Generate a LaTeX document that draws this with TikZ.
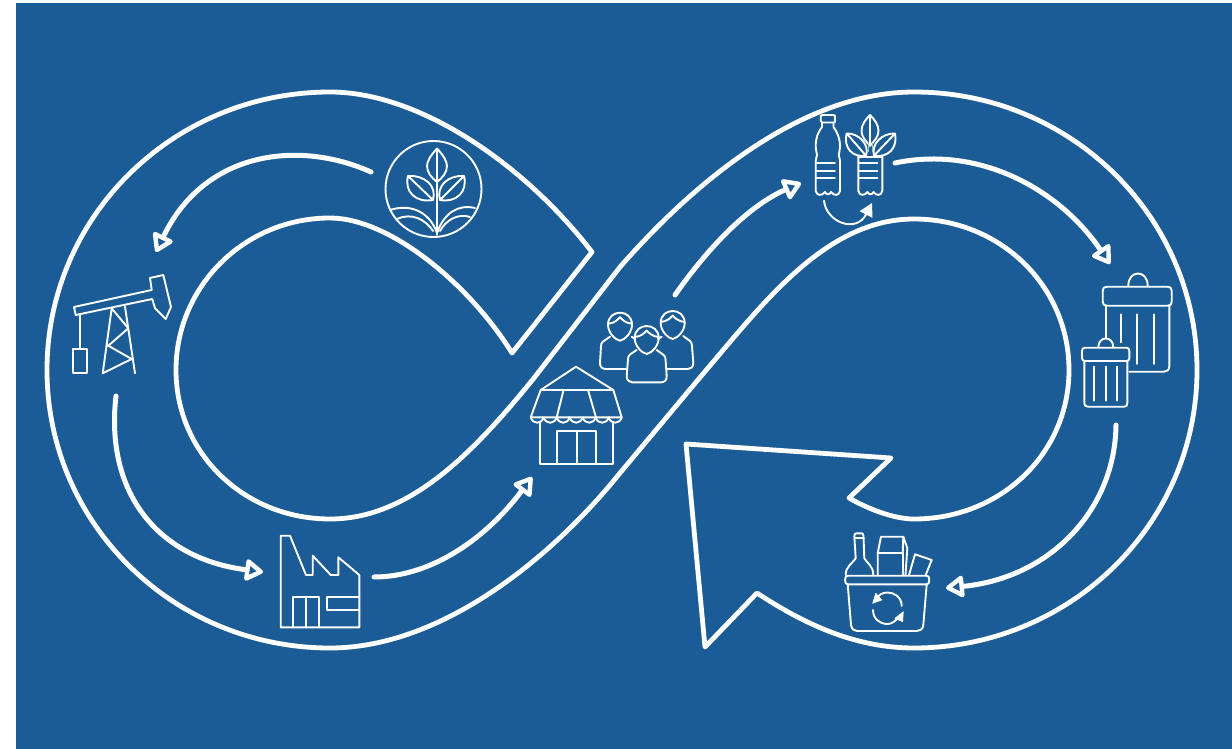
\documentclass[tikz,border=0pt]{standalone}
\usetikzlibrary{arrows.meta}
\definecolor{bluebg}{RGB}{27,92,150}
\definecolor{leafgreen}{RGB}{150,215,160}
\tikzset{
  bandline/.style={draw=white,line width=4.8pt,line join=round,line cap=round},
  flow/.style={draw=white,line width=5pt,line cap=round,-{Triangle[open,round,length=20pt,width=24pt,line width=4.4pt]}},
  icon/.style={draw=white,line width=1.9pt,line join=round,line cap=round},
  solidtip/.style={fill=white,draw=white,line width=.6pt,line join=round},
  person/.pic={
    \draw[icon] (0,14) .. controls (-5,13) and (-12,6) .. (-12,-2) .. controls (-12,-10) and (-6,-14) .. (0,-14) .. controls (6,-14) and (12,-10) .. (12,-2) .. controls (12,6) and (5,13) .. (0,14);
    \draw[icon] (-11.8,-3) .. controls (-6,-3.5) and (-2,-7) .. (0,-9.5) .. controls (2,-7) and (6,-3.5) .. (11.8,-3);
  }
}
\begin{document}
\begin{tikzpicture}[x=1pt,y=-1pt]
\useasboundingbox (0,0) rectangle (1232,749);
\fill[white] (0,0) rectangle (1232,749);
\fill[bluebg] (16,3) rectangle (1232,749);

% infinity band
\draw[bandline]
 (592,252) -- (512,353)
 .. controls (470,285) and (390,218) .. (330,218)
 .. controls (245,218) and (176,286) .. (176,370)
 .. controls (176,454) and (245,519) .. (330,519)
 .. controls (410,519) and (474,452) .. (534,378)
 -- (620,267)
 .. controls (705,170) and (810,92) .. (914,92)
 .. controls (1070,92) and (1197,216) .. (1197,370)
 .. controls (1197,524) and (1070,648) .. (914,648)
 .. controls (860,648) and (810,628) .. (757,593)
 -- (705,647) -- (686,444) -- (891,458) -- (849,498)
 .. controls (870,510) and (895,519) .. (914,519)
 .. controls (1000,519) and (1069,454) .. (1069,370)
 .. controls (1069,286) and (1000,219) .. (914,219)
 .. controls (825,219) and (762,305) .. (702,375)
 -- (620,473)
 .. controls (550,560) and (440,648) .. (330,648)
 .. controls (174,648) and (47,524) .. (47,370)
 .. controls (47,216) and (174,92) .. (330,92)
 .. controls (420,92) and (525,165) .. (592,252);

% flow arrows
\coordinate (s1) at (371,172); \coordinate (t1) at (156,252);
\coordinate (s2) at (116,396); \coordinate (t2) at (263,572);
\coordinate (s3) at (374,577); \coordinate (t3) at (532,477);
\coordinate (s4) at (675,295); \coordinate (t4) at (801,183);
\coordinate (s5) at (895,163); \coordinate (t5) at (1110,264);
\coordinate (s6) at (1116,425); \coordinate (t6) at (946,588);
\draw[flow] (s1) .. controls (300,140) and (205,150) .. (t1);
\draw[flow] (s2) .. controls (105,490) and (155,558) .. (t2);
\draw[flow] (s3) .. controls (430,577) and (485,540) .. (t3);
\draw[flow] (s4) .. controls (710,245) and (750,205) .. (t4);
\draw[flow] (s5) .. controls (980,145) and (1060,190) .. (t5);
\draw[flow] (s6) .. controls (1115,510) and (1050,578) .. (t6);

% sprout
\draw[icon] (433.5,189) ellipse [x radius=48,y radius=48];
\draw[icon] (437,148.5) .. controls (431,155) and (427,161) .. (427,166) .. controls (427,173) and (432,178) .. (437,182) .. controls (442,178) and (447,173) .. (447,166) .. controls (447,161) and (443,155) .. (437,148.5) -- (437,235);
\draw[icon] (408,176) .. controls (404,192) and (416,203) .. (433,200) .. controls (437,186) and (425,175) .. (408,176) -- (433,200);
\draw[icon] (464,176) .. controls (468,192) and (456,203) .. (440,200) .. controls (436,186) and (448,175) .. (464,176) -- (440,200);
\draw[icon] (390,210) .. controls (412,203) and (430,213) .. (437,233);
\draw[icon] (397,219) .. controls (412,212) and (426,220) .. (433,231);
\draw[icon] (475,208) .. controls (458,204) and (444,213) .. (437,233);
\draw[icon] (470,217) .. controls (458,213) and (446,220) .. (440,231);

% pump jack
\draw[icon] (74,307) -- (151.7,290) -- (150,278) -- (163.3,275) -- (171,307) -- (165.7,319) -- (155,308.3) -- (152.3,299) -- (75.7,315) -- cycle;
\draw[icon] (80,314.3) -- (80,349);
\draw[icon] (73.3,349) rectangle (87.3,373.3);
\draw[icon] (111.7,308.3) -- (102.7,373.3) -- (131.7,359) -- (108.3,345.7) -- (128.3,328.3) -- (111.7,308.3);
\draw[icon] (125,306.7) -- (135,373.3);

% factory
\draw[icon] (280.7,535.7) -- (290,535.7) -- (306,575) -- (312.7,575) -- (312.7,555.7) -- (330.7,575) -- (338.3,575) -- (338.3,557.3) -- (359.3,575) -- (359.3,627.3) -- (280.7,627.3) -- cycle;
\draw[icon] (293.3,627.3) -- (293.3,596.7) -- (319.3,596.7) -- (319.3,627.3);
\draw[icon] (306,596.7) -- (306,627.3);
\draw[icon] (359.3,596.7) -- (327.3,596.7) -- (327.3,610) -- (359.3,610);

% store
\draw[icon] (540.7,390) -- (576,366.7) -- (613.3,390) -- cycle;
\draw[icon] (540.7,390) -- (530.7,417.3) -- (621.7,417.3) -- (613.3,390);
\draw[icon] (563.3,391) -- (556.7,417.3);
\draw[icon] (588.3,391) -- (596,417.3);
\foreach \i in {0,...,6}
  \draw[icon] ({530.7+13*\i},417.3) .. controls ({532.7+13*\i},424.5) and ({541.7+13*\i},424.5) .. ({543.7+13*\i},417.3);
\draw[icon] (540,422) -- (540,464) -- (613.3,464) -- (613.3,422);
\draw[icon] (556.7,464) -- (556.7,430.7) -- (596,430.7) -- (596,464);
\draw[icon] (576.7,430.7) -- (576.7,464);

% people
\pic at (620,326.7) {person};
\pic at (672.7,325) {person};
\pic at (646.7,340) {person};
\draw[icon] (610,336.7) -- (603,341.5) .. controls (601.5,343) and (601,344) .. (601,346) -- (600,363) .. controls (600,367) and (602,369) .. (606,369) -- (626.7,369);
\draw[icon] (631.7,336.7) -- (635,339);
\draw[icon] (683.3,336) -- (690,341) .. controls (691.5,342.5) and (692,344) .. (692,346) -- (693.3,363) .. controls (693.3,367) and (691,369) .. (688,369) -- (666.7,369);
\draw[icon] (661.7,336.7) -- (658,339);
\draw[icon] (636.7,350) -- (630,354.5) .. controls (628.5,356) and (628,357) .. (628,359) -- (626.7,376) .. controls (626.7,380) and (629,382.3) .. (632,382.3) -- (661,382.3) .. controls (665,382.3) and (666.7,380) .. (666.7,376) -- (665.5,359) .. controls (665.5,357) and (665,356) .. (663,354.5) -- (656.7,350);

% bottles
\draw[icon] (822.5,115) -- (833.5,115) .. controls (835,115) and (835,116) .. (835,117) -- (835,121) .. controls (835,122) and (835,122.5) .. (833.5,122.5) -- (822.5,122.5) .. controls (821,122.5) and (820.7,122) .. (820.7,121) -- (820.7,117) .. controls (820.7,116) and (821,115) .. (822.5,115) -- cycle;
\draw[icon] (822,122.5) -- (822,127) .. controls (818,132) and (815.7,138) .. (815.7,146) .. controls (815.7,150) and (817,153) .. (817,155) .. controls (817,157) and (815.7,158) .. (815.7,161) -- (815.7,191) .. controls (817,196) and (822,196) .. (825,192) .. controls (826,195) and (830,195) .. (831,192) .. controls (834,196) and (839,196) .. (840,191) -- (840,161) .. controls (840,158) and (838.8,157) .. (838.8,155) .. controls (838.8,153) and (840,150) .. (840,146) .. controls (840,138) and (837,132) .. (833.5,127) -- (833.5,122.5);
\draw[icon] (816.7,163.3) -- (835,163.3);
\draw[icon] (816.7,170.7) -- (835,170.7);
\draw[icon] (816.7,178.3) -- (835,178.3);
\draw[icon] (858.3,156.7) -- (882.3,156.7);
\draw[icon] (858.3,156.7) -- (858.3,191) .. controls (859.5,196) and (864.5,196) .. (867.5,192) .. controls (868.5,195) and (872.5,195) .. (873.5,192) .. controls (876.5,196) and (881,196) .. (882.3,191) -- (882.3,156.7);
\draw[icon] (859.3,163.3) -- (877.3,163.3);
\draw[icon] (859.3,170.7) -- (877.3,170.7);
\draw[icon] (859.3,178.3) -- (877.3,178.3);
\draw[icon] (870,115) .. controls (865,120) and (861.5,125) .. (861.5,131) .. controls (861.5,137) and (866,141) .. (870,146) .. controls (874,141) and (878.5,137) .. (878.5,131) .. controls (878.5,125) and (875,120) .. (870,115) -- (870,146);
\draw[icon] (846.7,133.5) .. controls (843,148) and (853,158) .. (866,155.7) .. controls (870,144) and (858,133) .. (846.7,133.5) -- (866,155.7);
\draw[icon] (895,133.5) .. controls (898,148) and (888,158) .. (874,155.7) .. controls (871,144) and (882,133) .. (895,133.5) -- (874,155.7);
\draw[leafgreen,line width=1pt] (868.3,143) -- (868.3,152) (872.7,143) -- (872.7,152);
\draw[icon,-{Triangle[length=13pt,width=14pt]}] (824,200.7) .. controls (826,222) and (856,234) .. (872,203);

% bins
\draw[icon] (1128.3,285.7) .. controls (1128.3,269.5) and (1147.7,269.5) .. (1147.7,285.7);
\draw[icon] (1107,286.7) -- (1167.5,286.7) .. controls (1170.5,286.7) and (1171.7,288) .. (1171.7,291) -- (1171.7,301.5) .. controls (1171.7,304.5) and (1170.5,305.7) .. (1167.5,305.7) -- (1107,305.7) .. controls (1104,305.7) and (1102.7,304.5) .. (1102.7,301.5) -- (1102.7,291) .. controls (1102.7,288) and (1104,286.7) .. (1107,286.7) -- cycle;
\draw[icon] (1106,305.7) -- (1106,338);
\draw[icon] (1169.3,305.7) -- (1169.3,366) .. controls (1169.3,370) and (1167,371.7) .. (1164,371.7) -- (1129.3,371.7);
\draw[icon] (1120.7,314.3) -- (1120.7,342.3);
\draw[icon] (1137.3,314.3) -- (1137.3,364);
\draw[icon] (1154,314.3) -- (1154,364);
\draw[icon] (1098.3,347.3) .. controls (1098.3,335.5) and (1113.3,335.5) .. (1113.3,347.3);
\draw[icon] (1085,347.7) -- (1126.5,347.7) .. controls (1128.5,347.7) and (1129.3,349) .. (1129.3,351) -- (1129.3,358) .. controls (1129.3,360) and (1128.5,361) .. (1126.5,361) -- (1085,361) .. controls (1083,361) and (1082,360) .. (1082,358) -- (1082,351) .. controls (1082,349) and (1083,347.7) .. (1085,347.7) -- cycle;
\draw[icon] (1084.3,361) -- (1084.3,403) .. controls (1084.3,405.5) and (1085.5,406.7) .. (1088,406.7) -- (1124,406.7) .. controls (1126.5,406.7) and (1127.3,405.5) .. (1127.3,403) -- (1127.3,361);
\draw[icon] (1094,366.7) -- (1094,400.7);
\draw[icon] (1105.7,366.7) -- (1105.7,400.7);
\draw[icon] (1117.3,366.7) -- (1117.3,400.7);

% basket
\draw[icon] (848,575.7) -- (926.5,575.7) .. controls (928.5,575.7) and (929.3,577) .. (929.3,580) .. controls (929.3,583) and (928.5,584.3) .. (926.5,584.3) -- (848,584.3) .. controls (846,584.3) and (845,583) .. (845,580) .. controls (845,577) and (846,575.7) .. (848,575.7) -- cycle;
\draw[icon] (847.7,584.3) -- (851,625) .. controls (851.5,629) and (854,631) .. (857,631) -- (917,631) .. controls (920,631) and (923,629) .. (923.3,625) -- (926.7,584.3);
\draw[icon] (845.7,575) .. controls (845.7,566) and (853,563) .. (855.7,558.3) -- (854.3,536) .. controls (854.3,533.5) and (855.5,533.3) .. (857,533.3) -- (861,533.3) .. controls (862.5,533.3) and (863.5,533.5) .. (863.5,536) -- (864.3,558.3) .. controls (867,563) and (873.3,566) .. (873.3,575);
\draw[icon] (854.5,538.3) -- (863.5,538.3);
\draw[icon] (877.7,575) -- (877.7,553.3) -- (881,536.7) -- (903.3,536.7) -- (907.3,548.3) -- (905.5,575);
\draw[icon] (877.7,553.3) -- (902.7,553.3) -- (902.7,575);
\draw[icon] (902.7,553.3) -- (903.3,536.7);
\draw[icon] (909,575) -- (915,554.3) -- (931.7,560) -- (925.7,575);
\draw[icon] (901.7,606) .. controls (901.7,597) and (894,592.5) .. (887.5,592.5) .. controls (882,592.5) and (879,595) .. (877,598);
\fill[solidtip] (872.7,603.3) -- (881.7,600) -- (875.7,593.3) -- cycle;
\draw[icon] (873,610) .. controls (873,619) and (880,624) .. (887.5,624) .. controls (892,624) and (895,621) .. (898,618);
\fill[solidtip] (903.3,611.7) -- (895,618.3) -- (902.7,621.7) -- cycle;
\end{tikzpicture}
\end{document}
